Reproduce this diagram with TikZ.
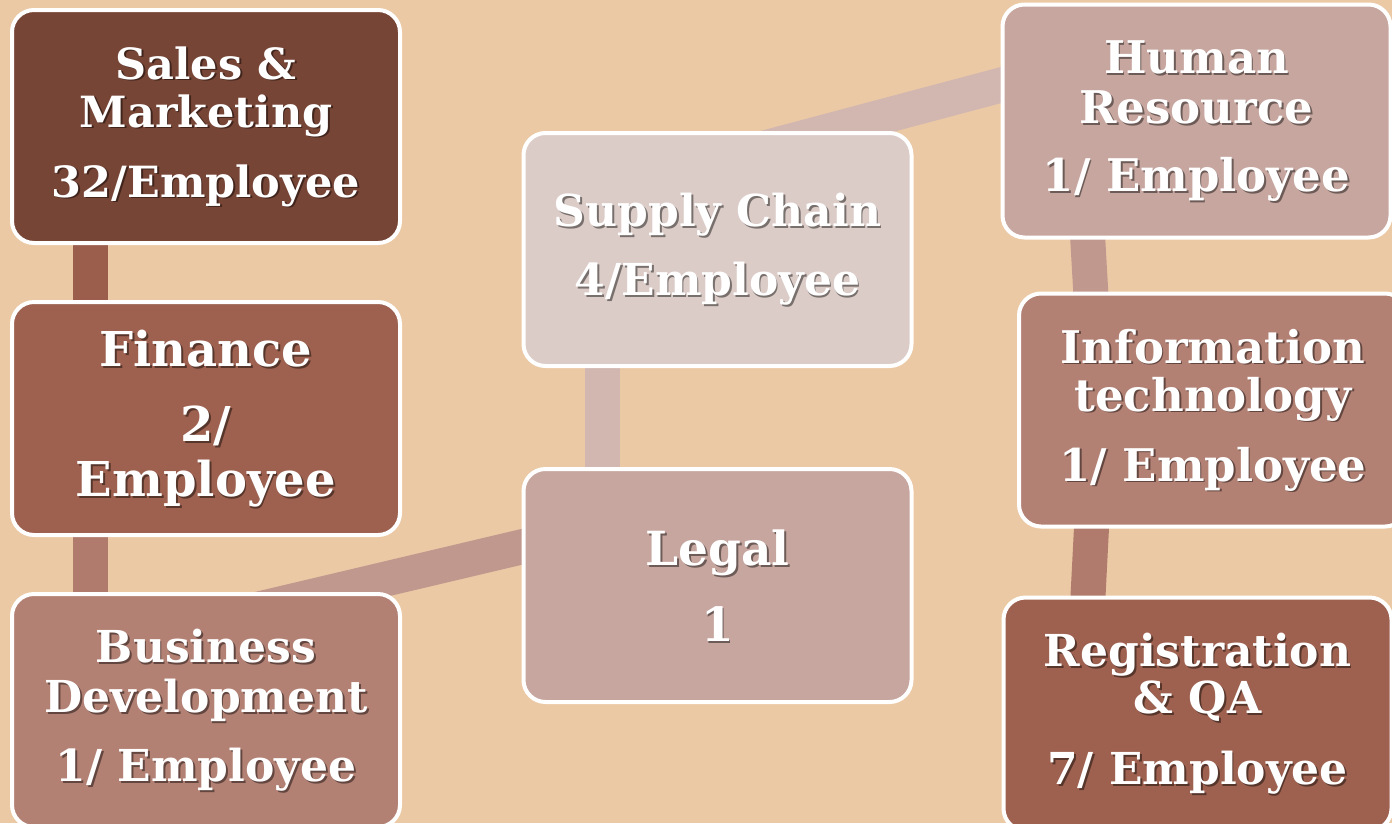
\documentclass[tikz,border=0pt]{standalone}
\usepackage{fontspec}
\setmainfont{DejaVu Serif}
\usetikzlibrary{calc}
\pgfdeclarelayer{bg}
\pgfdeclarelayer{background}
\pgfsetlayers{bg,background,main}
\definecolor{bgtan}{HTML}{EBC9A5}
\definecolor{fSales}{HTML}{774536}
\definecolor{fFin}{HTML}{9E6150}
\definecolor{fBiz}{HTML}{B38174}
\definecolor{fSC}{HTML}{DCCCC8}
\definecolor{fLegal}{HTML}{C6A69F}
\definecolor{cA}{HTML}{9B5D4C}
\definecolor{cB}{HTML}{B07B6C}
\definecolor{cC}{HTML}{C1988E}
\definecolor{cD}{HTML}{D2B6B0}
\tikzset{
  deptbox/.style={draw=white, line width=4pt, rounded corners=22pt,
    minimum width=388pt, minimum height=233pt, inner sep=0pt},
  depttext/.style={align=center, inner sep=0pt},
  conn/.style={line width=35pt, line cap=butt}
}
% #1 name, #2 position, #3 fill, #4 font size, #5 baselineskip, #6 text
\newcommand\deptnode[6]{%
  \node[deptbox, fill=#3] (#1) at #2 {};
  \node[depttext, text=black, opacity=0.45,
        font=\bfseries\fontsize{#4}{#5}\selectfont]
        at ([xshift=1.8pt,yshift=-1.8pt]#1.center) {#6};
  \node[depttext, text=white,
        font=\bfseries\fontsize{#4}{#5}\selectfont]
        (#1-t) at (#1.center) {#6};
}
\begin{document}
\begin{tikzpicture}[x=1pt,y=-1pt]
\begin{pgfonlayer}{bg}
  \fill[bgtan] (0,0) rectangle (1392,823);
\end{pgfonlayer}
\useasboundingbox (0,0) rectangle (1392,823);

\deptnode{sales}{(206,126.5)}{fSales}{43}{48}{Sales \&\\Marketing\\[22pt]32/Employee}
\deptnode{fin}{(206,418.5)}{fFin}{48}{55}{Finance\\[20pt]2/\\Employee}
\deptnode{biz}{(206,710.5)}{fBiz}{44}{50}{Business\\Development\\[19pt]1/ Employee}
\deptnode{sc}{(717.5,249.5)}{fSC}{44}{69}{Supply Chain\\4/Employee}
\deptnode{legal}{(717.5,585.5)}{fLegal}{47}{76}{Legal\\1}
\deptnode{hr}{(1196.5,121)}{fLegal}{45}{50}{Human\\Resource\\[18pt]1/ Employee}
\deptnode{it}{(1213,410)}{fBiz}{45}{48}{Information\\technology\\[22pt]1/ Employee}
\deptnode{reg}{(1197.5,714)}{fFin}{44}{47}{Registration\\\& QA\\[24pt]7/ Employee}

\begin{pgfonlayer}{background}
  \draw[conn, cA] ([xshift=-115.5pt]sales.center) -- ([xshift=-115.5pt]fin.center);
  \draw[conn, cB] ([xshift=-115.5pt]fin.center) -- ([xshift=-115.5pt]biz.center);
  \draw[conn, cC] ([yshift=89pt]biz.center) -- ([yshift=85pt]legal.center);
  \draw[conn, cD] ([xshift=-115.5pt]legal.center) -- ([xshift=-115.5pt]sc.center);
  \draw[conn, cD] ([yshift=89pt]sc.center) -- ([yshift=88pt]hr.center);
  \draw[conn, cC] ([xshift=-115.5pt]hr.center) -- ([xshift=-115.5pt]it.center);
  \draw[conn, cB] ([xshift=-115.5pt]it.center) -- ([xshift=-115.5pt]reg.center);
\end{pgfonlayer}
\end{tikzpicture}
\end{document}
